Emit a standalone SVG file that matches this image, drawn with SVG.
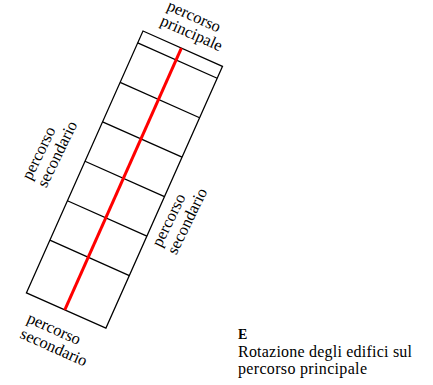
<svg xmlns="http://www.w3.org/2000/svg" width="433" height="385" viewBox="0 0 433 385">
<style>
text{font-family:'Liberation Serif','DejaVu Serif','Times New Roman',serif;font-size:16.5px;fill:#000}
.b{fill:none;stroke:#000;stroke-width:1.3}
.r{stroke:#ff0000;stroke-width:3;fill:none}
</style>
<rect width="433" height="385" fill="#fff"/>
<g id="block" transform="translate(143,31) rotate(24)">
<rect class="b" x="0" y="0" width="87" height="286.6"/>
<g id="cells">
<line class="b" x1="0" y1="13" x2="87" y2="13"/>
<line class="b" x1="0" y1="56.2" x2="87" y2="56.2"/>
<line class="b" x1="0" y1="99.4" x2="87" y2="99.4"/>
<line class="b" x1="0" y1="142.6" x2="87" y2="142.6"/>
<line class="b" x1="0" y1="185.8" x2="87" y2="185.8"/>
<line class="b" x1="0" y1="229" x2="87" y2="229"/>
</g>
</g>
<g id="connectors">
<line class="r" transform="translate(143,31) rotate(24)" x1="42" y1="0" x2="42" y2="286.6"/>
</g>
<g id="label-top" transform="translate(166,9.5) rotate(24)">
<text font-family="Liberation Serif, serif" font-size="16"><tspan x="0" y="0">percorso</tspan><tspan x="0" y="16.5">principale</tspan></text>
</g>
<g id="label-left" transform="translate(31,181) rotate(-64)">
<text font-family="Liberation Serif, serif"><tspan x="0" y="0">percorso</tspan><tspan x="0" y="17">secondario</tspan></text>
</g>
<g id="label-right" transform="translate(161,248) rotate(-64)">
<text font-family="Liberation Serif, serif"><tspan x="0" y="0">percorso</tspan><tspan x="0" y="17">secondario</tspan></text>
</g>
<g id="label-bottom" transform="translate(26,322) rotate(24)">
<text font-family="Liberation Serif, serif"><tspan x="0" y="0">percorso</tspan><tspan x="0" y="17">secondario</tspan></text>
</g>
<g id="caption">
<text font-family="Liberation Serif, serif" x="238" y="338.5" font-weight="bold" style="font-size:14px">E</text>
<text font-family="Liberation Serif, serif" x="238" y="357" style="font-size:16px" textLength="174" lengthAdjust="spacing">Rotazione degli edifici sul</text>
<text font-family="Liberation Serif, serif" x="238" y="374" style="font-size:16px" textLength="129" lengthAdjust="spacing">percorso principale</text>
</g>
</svg>
